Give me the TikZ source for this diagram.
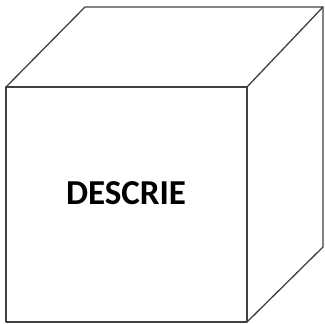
\documentclass[tikz,border=0pt]{standalone}
\usepackage{fontspec}
\setsansfont{Carlito}
\usetikzlibrary{calc}
\begin{document}
\begin{tikzpicture}[x=1pt,y=1pt,
  edge/.style={draw=black!75,line width=1.3pt,line join=round},
  lbl/.style={font=\sffamily\bfseries\fontsize{35}{42}\selectfont,inner sep=0pt}]
  \useasboundingbox (0,0) rectangle (325,324);
  % front face corners
  \coordinate (fsw) at (6,2);
  \coordinate (fnw) at (6,237);
  \coordinate (fne) at (247,237);
  \coordinate (fse) at (247,2);
  % back corners
  \coordinate (bnw) at ($(fnw)+(79,80)$);
  \coordinate (bne) at ($(fne)+(76,80)$);
  \coordinate (bse) at ($(fse)+(76,75)$);
  \draw[edge] (fsw) rectangle (fne);
  \draw[edge] (fnw) -- (bnw) -- (bne) -- (fne);
  \draw[edge] (bne) -- (bse) -- (fse);
  \node[lbl] (txt) at (126,131) {DESCRIE};
\end{tikzpicture}
\end{document}
